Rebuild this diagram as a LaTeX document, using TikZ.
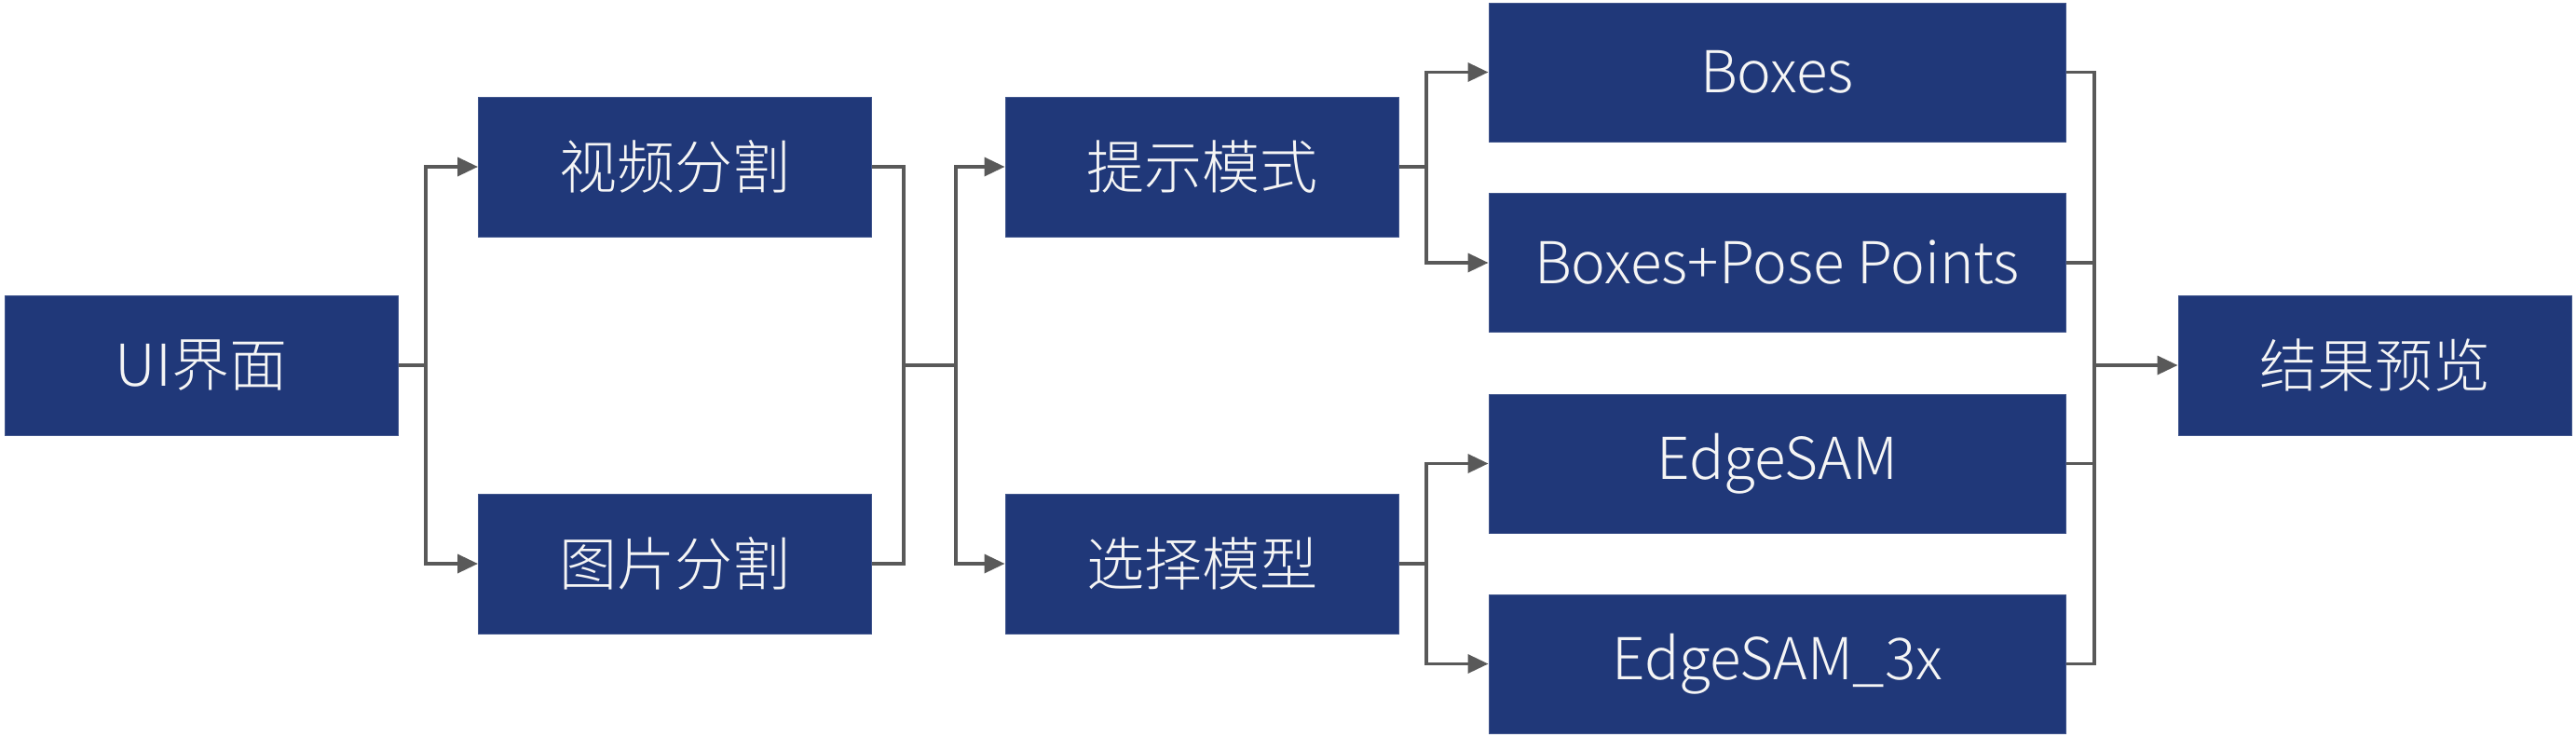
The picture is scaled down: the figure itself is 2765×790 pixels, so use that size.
\documentclass[tikz,border=0pt]{standalone}
\usepackage{fontspec}
\setmainfont{Noto Sans CJK SC}[UprightFont={* Light}]
\usetikzlibrary{arrows.meta}
\definecolor{boxcol}{RGB}{32,56,121}
\definecolor{linecol}{RGB}{89,89,89}
\definecolor{txtcol}{RGB}{245,245,245}
\begin{document}
\begin{tikzpicture}[x=1pt,y=-1pt,
  blk/.style={fill=boxcol,draw=boxcol!85!white,line width=1pt,text=txtcol,
    minimum width=422pt,minimum height=150pt,inner sep=0pt,
    font=\fontsize{62}{74}\selectfont},
  wide/.style={blk,minimum width=619pt,minimum height=149pt},
  conn/.style={draw=linecol,line width=3.5pt},
  arr/.style={conn,-{Triangle[length=22pt,width=20pt]}}]
\useasboundingbox (0,0) rectangle (2765,790);
\node[blk] (ui) at (216,392) {UI界面};
\node[blk] (video) at (724.5,179) {视频分割};
\node[blk] (image) at (724.5,605) {图片分割};
\node[blk] (prompt) at (1290,179) {提示模式};
\node[blk] (model) at (1290,605) {选择模型};
\node[wide] (boxes) at (1907.5,77.5) {Boxes};
\node[wide] (pose) at (1907.5,282) {Boxes+Pose Points};
\node[wide] (edge) at (1907.5,497.5) {EdgeSAM};
\node[wide] (edgex) at (1907.5,712.5) {EdgeSAM\_3x};
\node[blk] (result) at (2549,392) {结果预览};
\coordinate (j1) at (457,392);
\coordinate (m1) at (970,392);
\coordinate (s1) at (1026,392);
\coordinate (j2) at (1531,179);
\coordinate (j3) at (1531,605);
\coordinate (m2) at (2248,392);
\draw[conn] (ui.east) -- (j1);
\draw[arr] (j1) |- (video.west);
\draw[arr] (j1) |- (image.west);
\draw[conn] (video.east) -| (m1);
\draw[conn] (image.east) -| (m1);
\draw[conn] (m1) -- (s1);
\draw[arr] (s1) |- (prompt.west);
\draw[arr] (s1) |- (model.west);
\draw[conn] (prompt.east) -- (j2);
\draw[arr] (j2) |- (boxes.west);
\draw[arr] (j2) |- (pose.west);
\draw[conn] (model.east) -- (j3);
\draw[arr] (j3) |- (edge.west);
\draw[arr] (j3) |- (edgex.west);
\draw[conn] (boxes.east) -| (m2);
\draw[conn] (pose.east) -| (m2);
\draw[conn] (edge.east) -| (m2);
\draw[conn] (edgex.east) -| (m2);
\draw[arr] (m2) -- (result.west);
\end{tikzpicture}
\end{document}
